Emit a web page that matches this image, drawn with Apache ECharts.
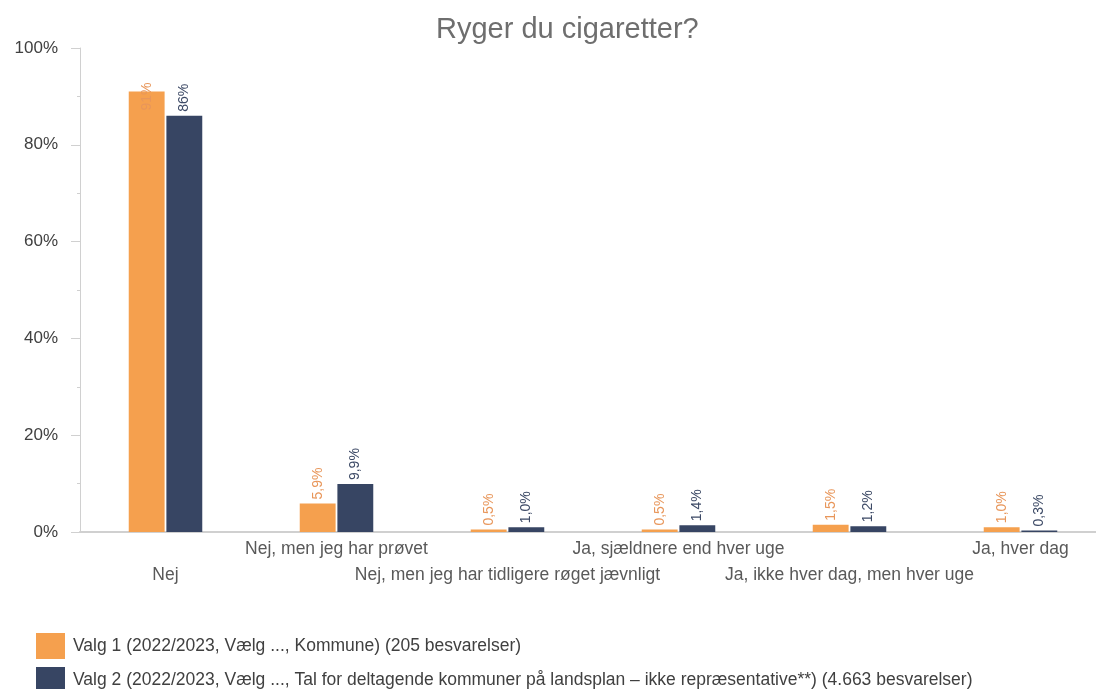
<!DOCTYPE html>
<html>
<head>
<meta charset="utf-8">
<script src="https://cdn.jsdelivr.net/npm/echarts@6/dist/echarts.min.js"></script>
<style>
  html, body { margin: 0; padding: 0; background: #fff; }
  #chart { width: 1096px; height: 689px; }
</style>
</head>
<body>
<div id="chart"></div>
<script>
var categories = ['Nej', 'Nej, men jeg har prøvet', 'Nej, men jeg har tidligere røget jævnligt',
    'Ja, sjældnere end hver uge', 'Ja, ikke hver dag, men hver uge', 'Ja, hver dag'];
var valg1 = [91, 5.9, 0.5, 0.5, 1.5, 1.0];
var valg2 = [86, 9.9, 1.0, 1.4, 1.2, 0.3];
var valg1Labels = ['91%', '5,9%', '0,5%', '0,5%', '1,5%', '1,0%'];
var valg2Labels = ['86%', '9,9%', '1,0%', '1,4%', '1,2%', '0,3%'];
var seriesNames = [
    'Valg 1 (2022/2023, Vælg ..., Kommune) (205 besvarelser)',
    'Valg 2 (2022/2023, Vælg ..., Tal for deltagende kommuner på landsplan – ikke repræsentative**) (4.663 besvarelser)'
];

var font = 'Liberation Sans, Arial, sans-serif';

function buildData(values, labels) {
    return values.map(function (v, i) {
        var d = { value: v, labelText: labels[i] };
        // the tallest bar hits the top of the plot, so its label is pushed inside
        if (v > 88) {
            d.label = { position: 'insideTop', distance: 19 };
        }
        return d;
    });
}

var myChart = echarts.init(document.getElementById('chart'));
myChart.setOption({
    textStyle: { fontFamily: font },
    title: {
        text: 'Ryger du cigaretter?',
        left: 431,
        top: 10,
        textStyle: { fontFamily: font, fontSize: 29, fontWeight: 'normal', color: '#6e6e6e' }
    },
    legend: {
        orient: 'vertical',
        left: 36,
        top: 633,
        height: 90,
        padding: 0,
        itemWidth: 29,
        itemHeight: 26,
        itemGap: 8,
        icon: 'rect',
        textStyle: { fontFamily: font, fontSize: 17.5, color: '#404040', padding: [0, 0, 0, 3] },
        data: seriesNames
    },
    grid: { left: 80, width: 1026, top: 48, bottom: 157, containLabel: false, outerBoundsMode: 'none' },
    xAxis: {
        type: 'category',
        data: categories,
        axisLine: { lineStyle: { color: '#d0d0d0', width: 2 } },
        axisTick: { show: false },
        axisLabel: {
            interval: 0,
            fontSize: 17.5,
            color: '#595959',
            margin: 4,
            lineHeight: 26,
            formatter: function (val, idx) {
                return idx % 2 === 0 ? '\n' + val : val;
            }
        }
    },
    yAxis: {
        type: 'value',
        min: 0,
        max: 100,
        interval: 20,
        axisLine: { show: true, lineStyle: { color: '#d0d0d0', width: 1 } },
        axisTick: { show: true, length: 9, lineStyle: { color: '#d0d0d0' } },
        minorTick: { show: true, splitNumber: 2, length: 3, lineStyle: { color: '#d0d0d0' } },
        splitLine: { show: false },
        axisLabel: { fontSize: 17, color: '#404040', margin: 22, formatter: '{value}%' }
    },
    series: [
        {
            name: seriesNames[0],
            type: 'bar',
            barGap: '5%',
            barCategoryGap: '57%',
            itemStyle: { color: '#f5a04e' },
            label: {
                show: true,
                position: 'top',
                rotate: 90,
                align: 'left',
                verticalAlign: 'middle',
                distance: 4,
                fontSize: 14,
                color: '#e8965a',
                formatter: function (p) { return p.data.labelText; }
            },
            data: buildData(valg1, valg1Labels)
        },
        {
            name: seriesNames[1],
            type: 'bar',
            itemStyle: { color: '#374563' },
            label: {
                show: true,
                position: 'top',
                rotate: 90,
                align: 'left',
                verticalAlign: 'middle',
                distance: 4,
                fontSize: 14,
                color: '#3d4a66',
                formatter: function (p) { return p.data.labelText; }
            },
            data: buildData(valg2, valg2Labels)
        }
    ]
});
</script>
</body>
</html>
